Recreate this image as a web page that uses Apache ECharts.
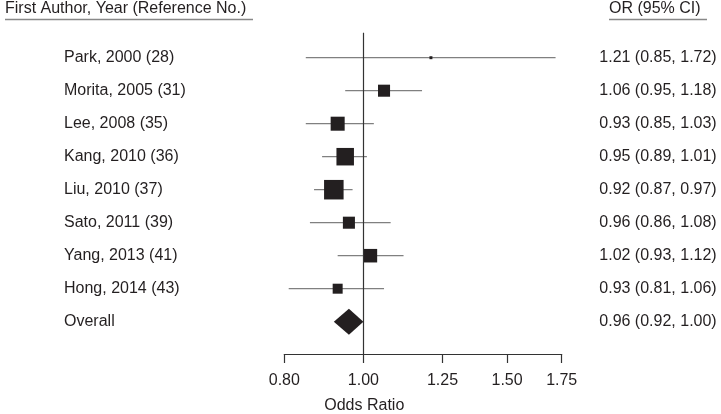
<!DOCTYPE html>
<html>
<head>
<meta charset="utf-8">
<script src="https://cdn.jsdelivr.net/npm/echarts@6/dist/echarts.min.js"></script>
<style>html,body{margin:0;padding:0;background:#fff}#c{width:721px;height:414px}</style>
</head>
<body>
<div id="c"></div>
<script>
// ---- data ----
const studies = ['Park, 2000 (28)', 'Morita, 2005 (31)', 'Lee, 2008 (35)', 'Kang, 2010 (36)',
  'Liu, 2010 (37)', 'Sato, 2011 (39)', 'Yang, 2013 (41)', 'Hong, 2014 (43)'];
const orVals = [1.21, 1.06, 0.93, 0.95, 0.92, 0.96, 1.02, 0.93];
const ciLow  = [0.85, 0.95, 0.85, 0.89, 0.87, 0.86, 0.93, 0.81];
const ciHigh = [1.72, 1.18, 1.03, 1.01, 0.97, 1.08, 1.12, 1.06];
const weights = [0.6, 9.9, 13.4, 20.9, 26.0, 9.9, 12.5, 6.8]; // relative study weight (%)
const overallLabel = 'Overall';
const overallOR = 0.96, overallLow = 0.92, overallHigh = 1.00;
const xTicks = [0.80, 1.00, 1.25, 1.50, 1.75];

// ---- build ----
const ln = Math.log;
const font = '"Liberation Sans", Arial, Helvetica, sans-serif';
const txt = '#231f20';
const rowNames = studies.concat([overallLabel]);
const fmt = v => v.toFixed(2);
const rightTexts = orVals.map((v, i) => fmt(v) + ' (' + fmt(ciLow[i]) + ', ' + fmt(ciHigh[i]) + ')')
  .concat([fmt(overallOR) + ' (' + fmt(overallLow) + ', ' + fmt(overallHigh) + ')']);
const rowIdx = rowNames.map((_, i) => i);

const studyData = orVals.map((v, i) => [ln(v), i, ln(ciLow[i]), ln(ciHigh[i]), 3.83 * Math.sqrt(weights[i])]);
const overallData = [[ln(overallOR), studies.length, ln(overallLow), ln(overallHigh)]];

const chart = echarts.init(document.getElementById('c'), null, {renderer: 'canvas'});
const yCommon = {
  type: 'value', min: -0.7576, max: 8.979, inverse: true,
  axisLine: {show: false, onZero: false}, axisTick: {show: false}, splitLine: {show: false}
};
chart.setOption({
  animation: false,
  backgroundColor: '#fff',
  textStyle: {fontFamily: font},
  grid: {left: 284.3, right: 159.3, top: 32.7, bottom: 60},
  xAxis: {
    type: 'value', position: 'bottom', min: ln(xTicks[0]), max: ln(xTicks[xTicks.length - 1]),
    splitLine: {show: false},
    axisLine: {show: true, onZero: false, lineStyle: {color: '#333', width: 1.2}},
    axisTick: {show: true, customValues: xTicks.map(ln), length: 9, inside: false,
      lineStyle: {color: '#333', width: 1.2}},
    axisLabel: {customValues: xTicks.map(ln), formatter: v => Math.exp(v).toFixed(2),
      color: txt, fontSize: 16, fontFamily: font, margin: 19}
  },
  yAxis: [
    Object.assign({}, yCommon, {position: 'left',
      axisLabel: {customValues: rowIdx, formatter: v => rowNames[Math.round(v)],
        align: 'left', margin: 220.3, color: txt, fontSize: 16, fontFamily: font}}),
    Object.assign({}, yCommon, {position: 'right',
      axisLabel: {customValues: rowIdx, formatter: v => rightTexts[Math.round(v)],
        align: 'right', margin: 155, color: txt, fontSize: 16, fontFamily: font}})
  ],
  graphic: [
    {type: 'text', left: 5, top: 1, style: {text: 'First Author, Year (Reference No.)',
      fill: txt, font: '16px ' + font}},
    {type: 'line', shape: {x1: 5, y1: 19.5, x2: 253, y2: 19.5}, style: {stroke: '#888', lineWidth: 1.4}},
    {type: 'text', left: 609, top: 1, style: {text: 'OR (95% CI)', fill: txt, font: '16px ' + font}},
    {type: 'line', shape: {x1: 609, y1: 19.5, x2: 707, y2: 19.5}, style: {stroke: '#888', lineWidth: 1.4}},
    {type: 'text', x: 364.3, y: 406, style: {text: 'Odds Ratio', fill: txt, font: '16px ' + font,
      align: 'center', verticalAlign: 'middle'}}
  ],
  series: [
    {
      type: 'custom', xAxisIndex: 0, yAxisIndex: 0,
      encode: {x: [0, 2, 3], y: 1},
      data: studyData,
      renderItem: (params, api) => {
        const y = api.value(1);
        const c = api.coord([api.value(0), y]);
        const l = api.coord([api.value(2), y]);
        const h = api.coord([api.value(3), y]);
        const s = api.value(4);
        return {type: 'group', children: [
          {type: 'line', shape: {x1: l[0], y1: c[1], x2: h[0], y2: c[1]},
            style: {stroke: '#808080', lineWidth: 1.3}},
          {type: 'rect', shape: {x: c[0] - s / 2, y: c[1] - s / 2, width: s, height: s},
            style: {fill: txt}}
        ]};
      },
      markLine: {silent: true, symbol: 'none', label: {show: false}, animation: false,
        lineStyle: {color: '#333', width: 1.2, type: 'solid'}, data: [{xAxis: 0}]}
    },
    {
      type: 'custom', xAxisIndex: 0, yAxisIndex: 0,
      encode: {x: [0, 2, 3], y: 1},
      data: overallData,
      renderItem: (params, api) => {
        const y = api.value(1);
        const c = api.coord([api.value(0), y]);
        const l = api.coord([api.value(2), y]);
        const h = api.coord([api.value(3), y]);
        return {type: 'polygon', shape: {points: [[l[0], c[1]], [c[0], c[1] - 13], [h[0], c[1]], [c[0], c[1] + 13]]},
          style: {fill: txt}};
      }
    }
  ]
});
</script>
</body>
</html>
